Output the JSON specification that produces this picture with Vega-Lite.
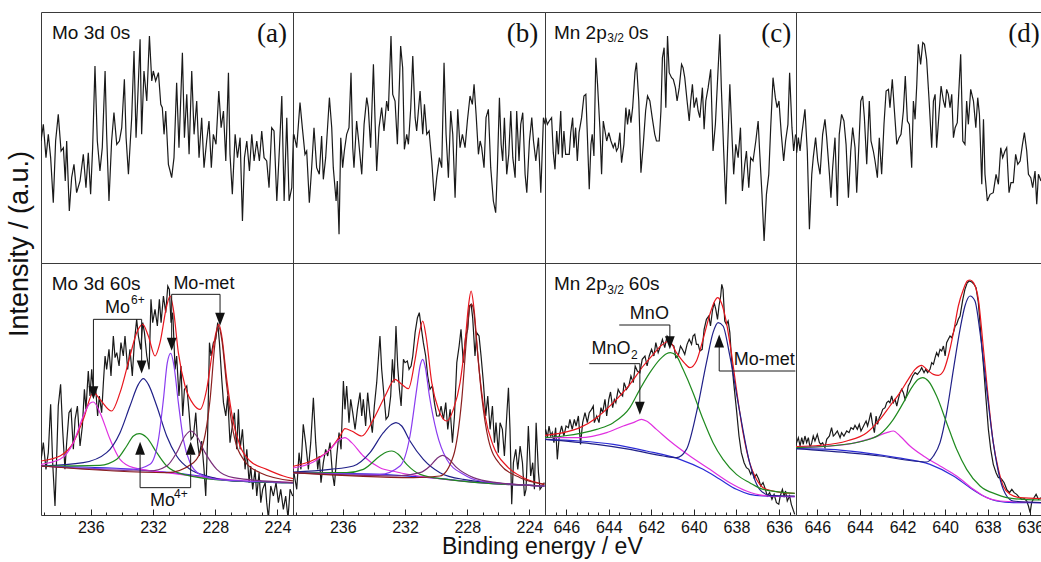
{
"$schema": "https://vega.github.io/schema/vega-lite/v6.json",
"padding": {"left": 5, "top": 11, "right": 0, "bottom": 0},
"background": "white",
"config": {
 "view": {"stroke": "#3a3a3a", "strokeWidth": 1},
 "font": "Liberation Sans",
 "concat": {"spacing": 0},
 "axis": {"grid": false, "domain": false, "labelFont": "Liberation Sans", "labelFontSize": 16, "labelColor": "#111", "tickColor": "#222", "labelFlush": false, "labelOverlap": false},
 "title": {"font": "Liberation Sans", "fontWeight": "normal", "color": "#111"}
},
"title": {"text": "Intensity / (a.u.)", "orient": "left", "anchor": "middle", "fontSize": 27, "offset": 7, "dx": 41},
"datasets": {
 "a0": [{"x":239.2,"y":366},{"x":239.05,"y":416},{"x":238.88,"y":316},{"x":238.73,"y":386},{"x":238.58,"y":316},{"x":238.41,"y":181},{"x":238.26,"y":366},{"x":238.09,"y":446},{"x":237.91,"y":336},{"x":237.76,"y":346},{"x":237.64,"y":246},{"x":237.55,"y":366},{"x":237.38,"y":156},{"x":237.23,"y":256},{"x":237.08,"y":296},{"x":236.91,"y":211},{"x":236.69,"y":246},{"x":236.48,"y":326},{"x":236.31,"y":226},{"x":236.16,"y":331},{"x":236.01,"y":206},{"x":235.88,"y":346},{"x":235.73,"y":591},{"x":235.58,"y":366},{"x":235.41,"y":276},{"x":235.26,"y":346},{"x":235.08,"y":576},{"x":234.98,"y":386},{"x":234.83,"y":186},{"x":234.66,"y":366},{"x":234.51,"y":451},{"x":234.33,"y":356},{"x":234.16,"y":366},{"x":234.01,"y":406},{"x":233.84,"y":551},{"x":233.73,"y":376},{"x":233.58,"y":266},{"x":233.37,"y":436},{"x":233.22,"y":636},{"x":233.09,"y":376},{"x":232.98,"y":496},{"x":232.83,"y":671},{"x":232.73,"y":386},{"x":232.58,"y":576},{"x":232.40,"y":486},{"x":232.23,"y":681},{"x":232.08,"y":546},{"x":231.98,"y":576},{"x":231.83,"y":546},{"x":231.65,"y":571},{"x":231.50,"y":476},{"x":231.40,"y":466},{"x":231.29,"y":386},{"x":231.18,"y":456},{"x":231.01,"y":296},{"x":230.90,"y":276},{"x":230.80,"y":256},{"x":230.65,"y":316},{"x":230.48,"y":541},{"x":230.33,"y":346},{"x":230.11,"y":631},{"x":229.98,"y":376},{"x":229.83,"y":506},{"x":229.68,"y":326},{"x":229.51,"y":576},{"x":229.36,"y":386},{"x":229.19,"y":486},{"x":229.04,"y":316},{"x":228.87,"y":436},{"x":228.72,"y":286},{"x":228.55,"y":366},{"x":228.40,"y":426},{"x":228.25,"y":286},{"x":228.12,"y":386},{"x":227.95,"y":356},{"x":227.77,"y":516},{"x":227.62,"y":406},{"x":227.47,"y":456},{"x":227.32,"y":306},{"x":227.15,"y":571},{"x":227.05,"y":326},{"x":226.90,"y":206},{"x":226.72,"y":386},{"x":226.57,"y":316},{"x":226.40,"y":376},{"x":226.25,"y":126},{"x":226.12,"y":316},{"x":225.97,"y":366},{"x":225.80,"y":276},{"x":225.65,"y":386},{"x":225.50,"y":306},{"x":225.33,"y":366},{"x":225.16,"y":306},{"x":225.01,"y":396},{"x":224.86,"y":316},{"x":224.69,"y":306},{"x":224.54,"y":226},{"x":224.37,"y":406},{"x":224.22,"y":396},{"x":224.04,"y":186},{"x":223.87,"y":346},{"x":223.72,"y":501},{"x":223.57,"y":186},{"x":223.40,"y":436},{"x":223.25,"y":186},{"x":223.08,"y":226},{"x":222.97,"y":386}],
 "b0": [{"x":239.2,"y":360},{"x":239.14,"y":386},{"x":238.96,"y":346},{"x":238.75,"y":481},{"x":238.60,"y":406},{"x":238.43,"y":326},{"x":238.32,"y":336},{"x":238.15,"y":181},{"x":238.00,"y":286},{"x":237.85,"y":406},{"x":237.68,"y":286},{"x":237.51,"y":266},{"x":237.36,"y":381},{"x":237.25,"y":251},{"x":237.10,"y":316},{"x":236.86,"y":496},{"x":236.71,"y":406},{"x":236.61,"y":286},{"x":236.43,"y":186},{"x":236.35,"y":246},{"x":236.24,"y":86},{"x":236.13,"y":376},{"x":236.01,"y":286},{"x":235.90,"y":336},{"x":235.75,"y":386},{"x":235.60,"y":406},{"x":235.47,"y":571},{"x":235.36,"y":346},{"x":235.28,"y":286},{"x":235.11,"y":426},{"x":234.98,"y":366},{"x":234.78,"y":266},{"x":234.63,"y":416},{"x":234.46,"y":496},{"x":234.36,"y":466},{"x":234.21,"y":346},{"x":234.03,"y":596},{"x":233.93,"y":436},{"x":233.82,"y":276},{"x":233.67,"y":406},{"x":233.50,"y":466},{"x":233.35,"y":396},{"x":233.18,"y":486},{"x":233.07,"y":456},{"x":232.90,"y":681},{"x":232.79,"y":506},{"x":232.64,"y":486},{"x":232.49,"y":356},{"x":232.28,"y":651},{"x":232.15,"y":586},{"x":232.04,"y":341},{"x":231.89,"y":386},{"x":231.78,"y":356},{"x":231.63,"y":466},{"x":231.50,"y":621},{"x":231.35,"y":436},{"x":231.25,"y":396},{"x":231.14,"y":456},{"x":231.03,"y":516},{"x":230.86,"y":386},{"x":230.75,"y":476},{"x":230.60,"y":386},{"x":230.45,"y":396},{"x":230.28,"y":306},{"x":230.11,"y":186},{"x":229.96,"y":256},{"x":229.79,"y":316},{"x":229.64,"y":286},{"x":229.49,"y":601},{"x":229.36,"y":386},{"x":229.21,"y":256},{"x":229.06,"y":456},{"x":228.93,"y":386},{"x":228.78,"y":196},{"x":228.61,"y":461},{"x":228.46,"y":346},{"x":228.31,"y":386},{"x":228.14,"y":346},{"x":227.99,"y":426},{"x":227.82,"y":501},{"x":227.67,"y":476},{"x":227.56,"y":536},{"x":227.43,"y":446},{"x":227.28,"y":326},{"x":227.17,"y":366},{"x":227.07,"y":346},{"x":226.92,"y":286},{"x":226.79,"y":436},{"x":226.64,"y":461},{"x":226.49,"y":286},{"x":226.32,"y":186},{"x":226.17,"y":151},{"x":226.06,"y":286},{"x":225.93,"y":496},{"x":225.82,"y":356},{"x":225.72,"y":306},{"x":225.61,"y":436},{"x":225.46,"y":266},{"x":225.33,"y":326},{"x":225.20,"y":456},{"x":225.07,"y":316},{"x":224.92,"y":256},{"x":224.82,"y":456},{"x":224.67,"y":306},{"x":224.56,"y":416},{"x":224.43,"y":451},{"x":224.28,"y":266},{"x":224.17,"y":211},{"x":224.00,"y":366},{"x":223.85,"y":436},{"x":223.74,"y":366},{"x":223.59,"y":306},{"x":223.42,"y":376},{"x":223.27,"y":211},{"x":223.10,"y":436},{"x":222.99,"y":416}],
 "c0": [{"x":646.97,"y":436},{"x":646.89,"y":416},{"x":646.80,"y":426},{"x":646.69,"y":436},{"x":646.61,"y":331},{"x":646.53,"y":281},{"x":646.45,"y":396},{"x":646.37,"y":326},{"x":646.26,"y":456},{"x":646.19,"y":316},{"x":646.11,"y":396},{"x":646.03,"y":326},{"x":645.95,"y":326},{"x":645.86,"y":326},{"x":645.79,"y":391},{"x":645.70,"y":436},{"x":645.64,"y":346},{"x":645.56,"y":406},{"x":645.48,"y":306},{"x":645.40,"y":391},{"x":645.28,"y":436},{"x":645.17,"y":501},{"x":645.08,"y":506},{"x":645.01,"y":386},{"x":644.92,"y":221},{"x":644.84,"y":356},{"x":644.78,"y":386},{"x":644.70,"y":321},{"x":644.61,"y":616},{"x":644.53,"y":536},{"x":644.42,"y":406},{"x":644.34,"y":266},{"x":644.26,"y":426},{"x":644.18,"y":396},{"x":644.10,"y":366},{"x":644.00,"y":391},{"x":643.90,"y":366},{"x":643.79,"y":346},{"x":643.71,"y":361},{"x":643.64,"y":336},{"x":643.56,"y":346},{"x":643.48,"y":391},{"x":643.40,"y":301},{"x":643.29,"y":356},{"x":643.20,"y":466},{"x":643.12,"y":416},{"x":643.04,"y":461},{"x":642.96,"y":421},{"x":642.88,"y":466},{"x":642.77,"y":571},{"x":642.70,"y":601},{"x":642.59,"y":486},{"x":642.49,"y":271},{"x":642.38,"y":356},{"x":642.27,"y":456},{"x":642.18,"y":501},{"x":642.07,"y":486},{"x":641.96,"y":436},{"x":641.84,"y":386},{"x":641.76,"y":366},{"x":641.63,"y":366},{"x":641.55,"y":456},{"x":641.48,"y":616},{"x":641.40,"y":646},{"x":641.32,"y":466},{"x":641.24,"y":681},{"x":641.16,"y":571},{"x":641.05,"y":556},{"x":640.97,"y":551},{"x":640.87,"y":526},{"x":640.79,"y":486},{"x":640.69,"y":526},{"x":640.58,"y":596},{"x":640.51,"y":586},{"x":640.43,"y":556},{"x":640.32,"y":486},{"x":640.22,"y":426},{"x":640.15,"y":486},{"x":640.07,"y":536},{"x":639.99,"y":466},{"x":639.88,"y":496},{"x":639.80,"y":456},{"x":639.72,"y":436},{"x":639.60,"y":526},{"x":639.52,"y":401},{"x":639.44,"y":486},{"x":639.33,"y":526},{"x":639.21,"y":581},{"x":639.10,"y":336},{"x":638.99,"y":416},{"x":638.89,"y":546},{"x":638.78,"y":686},{"x":638.71,"y":526},{"x":638.60,"y":336},{"x":638.50,"y":176},{"x":638.42,"y":336},{"x":638.31,"y":536},{"x":638.20,"y":366},{"x":638.13,"y":266},{"x":638.03,"y":356},{"x":637.92,"y":316},{"x":637.81,"y":406},{"x":637.72,"y":216},{"x":637.61,"y":296},{"x":637.53,"y":336},{"x":637.42,"y":226},{"x":637.33,"y":316},{"x":637.22,"y":306},{"x":637.09,"y":366},{"x":636.98,"y":426},{"x":636.91,"y":336},{"x":636.80,"y":206},{"x":636.70,"y":66},{"x":636.59,"y":206},{"x":636.48,"y":266},{"x":636.39,"y":406},{"x":636.28,"y":556},{"x":636.17,"y":496},{"x":636.09,"y":466},{"x":636.00,"y":486},{"x":635.89,"y":386},{"x":635.78,"y":306},{"x":635.69,"y":366},{"x":635.58,"y":416},{"x":635.50,"y":571},{"x":635.39,"y":406},{"x":635.31,"y":336},{"x":635.22,"y":386}],
 "d0": [{"x":647.0,"y":380},{"x":646.97,"y":331},{"x":646.89,"y":376},{"x":646.81,"y":336},{"x":646.73,"y":386},{"x":646.58,"y":461},{"x":646.47,"y":336},{"x":646.37,"y":101},{"x":646.26,"y":266},{"x":646.19,"y":316},{"x":646.08,"y":376},{"x":645.98,"y":306},{"x":645.87,"y":266},{"x":645.75,"y":386},{"x":645.64,"y":431},{"x":645.56,"y":376},{"x":645.43,"y":266},{"x":645.36,"y":196},{"x":645.28,"y":286},{"x":645.17,"y":376},{"x":645.06,"y":171},{"x":644.97,"y":386},{"x":644.86,"y":446},{"x":644.75,"y":426},{"x":644.65,"y":356},{"x":644.54,"y":196},{"x":644.43,"y":336},{"x":644.34,"y":406},{"x":644.23,"y":346},{"x":644.15,"y":211},{"x":644.04,"y":366},{"x":643.96,"y":486},{"x":643.87,"y":501},{"x":643.79,"y":436},{"x":643.68,"y":296},{"x":643.56,"y":486},{"x":643.48,"y":366},{"x":643.37,"y":336},{"x":643.29,"y":306},{"x":643.18,"y":256},{"x":643.09,"y":376},{"x":642.98,"y":266},{"x":642.87,"y":416},{"x":642.77,"y":516},{"x":642.66,"y":521},{"x":642.59,"y":466},{"x":642.48,"y":551},{"x":642.38,"y":456},{"x":642.27,"y":356},{"x":642.16,"y":376},{"x":642.07,"y":386},{"x":641.96,"y":456},{"x":641.87,"y":561},{"x":641.77,"y":426},{"x":641.68,"y":416},{"x":641.57,"y":286},{"x":641.49,"y":486},{"x":641.41,"y":431},{"x":641.33,"y":536},{"x":641.26,"y":656},{"x":641.15,"y":596},{"x":641.05,"y":661},{"x":640.97,"y":656},{"x":640.87,"y":611},{"x":640.76,"y":496},{"x":640.63,"y":346},{"x":640.55,"y":486},{"x":640.47,"y":506},{"x":640.40,"y":346},{"x":640.29,"y":446},{"x":640.19,"y":531},{"x":640.08,"y":486},{"x":640.00,"y":466},{"x":639.93,"y":521},{"x":639.85,"y":506},{"x":639.77,"y":466},{"x":639.69,"y":506},{"x":639.61,"y":376},{"x":639.53,"y":406},{"x":639.43,"y":421},{"x":639.27,"y":626},{"x":639.17,"y":366},{"x":639.07,"y":356},{"x":638.99,"y":486},{"x":638.91,"y":416},{"x":638.80,"y":521},{"x":638.67,"y":486},{"x":638.56,"y":406},{"x":638.47,"y":496},{"x":638.39,"y":446},{"x":638.28,"y":236},{"x":638.20,"y":431},{"x":638.13,"y":266},{"x":638.02,"y":186},{"x":637.89,"y":206},{"x":637.74,"y":211},{"x":637.61,"y":266},{"x":637.50,"y":236},{"x":637.39,"y":346},{"x":637.30,"y":316},{"x":637.19,"y":336},{"x":637.11,"y":346},{"x":637.00,"y":211},{"x":636.91,"y":241},{"x":636.80,"y":241},{"x":636.69,"y":326},{"x":636.59,"y":296},{"x":636.48,"y":306},{"x":636.37,"y":356},{"x":636.28,"y":391},{"x":636.17,"y":336},{"x":636.09,"y":266},{"x":635.98,"y":256},{"x":635.89,"y":226},{"x":635.78,"y":276},{"x":635.70,"y":176},{"x":635.62,"y":266},{"x":635.50,"y":246}],
 "a1": [{"x":239.2,"y":170},{"x":239.16,"y":177},{"x":239.05,"y":217},{"x":238.88,"y":137},{"x":238.73,"y":187},{"x":238.58,"y":332},{"x":238.45,"y":157},{"x":238.30,"y":27},{"x":238.19,"y":177},{"x":238.09,"y":327},{"x":237.94,"y":392},{"x":237.81,"y":257},{"x":237.66,"y":137},{"x":237.55,"y":217},{"x":237.40,"y":307},{"x":237.27,"y":317},{"x":237.12,"y":197},{"x":237.01,"y":287},{"x":236.86,"y":327},{"x":236.69,"y":207},{"x":236.54,"y":267},{"x":236.41,"y":377},{"x":236.31,"y":317},{"x":236.16,"y":432},{"x":236.05,"y":357},{"x":235.94,"y":437},{"x":235.83,"y":367},{"x":235.68,"y":377},{"x":235.56,"y":297},{"x":235.45,"y":357},{"x":235.30,"y":307},{"x":235.19,"y":397},{"x":235.08,"y":477},{"x":234.98,"y":437},{"x":234.83,"y":497},{"x":234.70,"y":417},{"x":234.55,"y":537},{"x":234.44,"y":472},{"x":234.33,"y":487},{"x":234.18,"y":447},{"x":234.06,"y":517},{"x":233.91,"y":477},{"x":233.80,"y":537},{"x":233.63,"y":437},{"x":233.48,"y":497},{"x":233.33,"y":417},{"x":233.20,"y":517},{"x":233.05,"y":587},{"x":232.94,"y":537},{"x":232.79,"y":497},{"x":232.66,"y":577},{"x":232.55,"y":547},{"x":232.40,"y":477},{"x":232.25,"y":437},{"x":232.13,"y":647},{"x":232.02,"y":577},{"x":231.87,"y":617},{"x":231.72,"y":567},{"x":231.59,"y":647},{"x":231.48,"y":577},{"x":231.33,"y":657},{"x":231.18,"y":607},{"x":231.05,"y":687},{"x":230.95,"y":677},{"x":230.84,"y":577},{"x":230.73,"y":607},{"x":230.58,"y":437},{"x":230.48,"y":477},{"x":230.33,"y":357},{"x":230.20,"y":447},{"x":230.09,"y":297},{"x":229.98,"y":377},{"x":229.83,"y":387},{"x":229.68,"y":307},{"x":229.55,"y":227},{"x":229.40,"y":237},{"x":229.25,"y":307},{"x":229.13,"y":217},{"x":229.02,"y":177},{"x":228.87,"y":222},{"x":228.72,"y":137},{"x":228.61,"y":57},{"x":228.50,"y":217},{"x":228.37,"y":517},{"x":228.27,"y":477},{"x":228.12,"y":517},{"x":227.97,"y":527},{"x":227.84,"y":577},{"x":227.73,"y":517},{"x":227.58,"y":407},{"x":227.47,"y":337},{"x":227.32,"y":297},{"x":227.20,"y":357},{"x":227.05,"y":217},{"x":226.90,"y":267},{"x":226.77,"y":307},{"x":226.62,"y":197},{"x":226.51,"y":317},{"x":226.40,"y":197},{"x":226.25,"y":257},{"x":226.08,"y":137},{"x":225.97,"y":197},{"x":225.82,"y":97},{"x":225.72,"y":147},{"x":225.59,"y":77},{"x":225.44,"y":137},{"x":225.33,"y":57},{"x":225.18,"y":127},{"x":225.07,"y":37},{"x":224.95,"y":77},{"x":224.79,"y":97},{"x":224.69,"y":37},{"x":224.58,"y":-10},{"x":224.43,"y":87},{"x":224.26,"y":57},{"x":224.09,"y":97},{"x":223.94,"y":37},{"x":223.79,"y":77},{"x":223.62,"y":17},{"x":223.47,"y":57},{"x":223.32,"y":-10},{"x":223.19,"y":77},{"x":223.02,"y":57}],
 "b1": [{"x":239.2,"y":130},{"x":239.14,"y":127},{"x":238.96,"y":77},{"x":238.81,"y":187},{"x":238.69,"y":137},{"x":238.54,"y":272},{"x":238.39,"y":217},{"x":238.21,"y":137},{"x":238.06,"y":217},{"x":237.89,"y":352},{"x":237.74,"y":217},{"x":237.61,"y":137},{"x":237.51,"y":177},{"x":237.40,"y":97},{"x":237.25,"y":157},{"x":237.10,"y":197},{"x":236.97,"y":177},{"x":236.82,"y":217},{"x":236.67,"y":127},{"x":236.54,"y":87},{"x":236.39,"y":177},{"x":236.24,"y":247},{"x":236.11,"y":197},{"x":235.96,"y":402},{"x":235.86,"y":317},{"x":235.75,"y":387},{"x":235.60,"y":277},{"x":235.49,"y":347},{"x":235.36,"y":307},{"x":235.21,"y":257},{"x":235.06,"y":317},{"x":234.89,"y":367},{"x":234.78,"y":297},{"x":234.68,"y":347},{"x":234.53,"y":267},{"x":234.40,"y":367},{"x":234.25,"y":297},{"x":234.10,"y":247},{"x":233.97,"y":327},{"x":233.82,"y":397},{"x":233.61,"y":537},{"x":233.50,"y":437},{"x":233.35,"y":357},{"x":233.22,"y":287},{"x":233.07,"y":297},{"x":232.92,"y":357},{"x":232.81,"y":467},{"x":232.70,"y":397},{"x":232.58,"y":567},{"x":232.47,"y":447},{"x":232.36,"y":377},{"x":232.25,"y":327},{"x":232.10,"y":467},{"x":232.00,"y":457},{"x":231.85,"y":462},{"x":231.74,"y":437},{"x":231.61,"y":447},{"x":231.50,"y":477},{"x":231.35,"y":547},{"x":231.20,"y":592},{"x":231.08,"y":607},{"x":230.97,"y":567},{"x":230.82,"y":517},{"x":230.67,"y":477},{"x":230.54,"y":417},{"x":230.39,"y":377},{"x":230.24,"y":387},{"x":230.11,"y":337},{"x":229.96,"y":297},{"x":229.81,"y":297},{"x":229.68,"y":327},{"x":229.53,"y":287},{"x":229.38,"y":337},{"x":229.25,"y":257},{"x":229.10,"y":317},{"x":228.95,"y":217},{"x":228.82,"y":297},{"x":228.67,"y":457},{"x":228.52,"y":507},{"x":228.40,"y":557},{"x":228.25,"y":457},{"x":228.10,"y":537},{"x":227.97,"y":557},{"x":227.86,"y":627},{"x":227.75,"y":632},{"x":227.65,"y":592},{"x":227.50,"y":477},{"x":227.39,"y":547},{"x":227.24,"y":537},{"x":227.11,"y":477},{"x":226.96,"y":397},{"x":226.81,"y":297},{"x":226.68,"y":357},{"x":226.53,"y":257},{"x":226.38,"y":327},{"x":226.25,"y":217},{"x":226.15,"y":277},{"x":226.00,"y":187},{"x":225.89,"y":277},{"x":225.74,"y":257},{"x":225.61,"y":177},{"x":225.46,"y":297},{"x":225.35,"y":382},{"x":225.25,"y":257},{"x":225.14,"y":32},{"x":225.03,"y":157},{"x":224.88,"y":197},{"x":224.75,"y":137},{"x":224.60,"y":207},{"x":224.45,"y":157},{"x":224.32,"y":57},{"x":224.22,"y":77},{"x":224.07,"y":267},{"x":223.92,"y":117},{"x":223.79,"y":157},{"x":223.68,"y":77},{"x":223.57,"y":277},{"x":223.42,"y":127},{"x":223.32,"y":77},{"x":223.17,"y":87},{"x":223.04,"y":97}],
 "c1": [{"x":647.0,"y":250},{"x":646.97,"y":257},{"x":646.89,"y":232},{"x":646.81,"y":267},{"x":646.73,"y":237},{"x":646.66,"y":247},{"x":646.58,"y":217},{"x":646.50,"y":262},{"x":646.42,"y":167},{"x":646.33,"y":237},{"x":646.22,"y":267},{"x":646.11,"y":237},{"x":646.01,"y":267},{"x":645.90,"y":262},{"x":645.83,"y":287},{"x":645.72,"y":257},{"x":645.62,"y":287},{"x":645.54,"y":267},{"x":645.43,"y":297},{"x":645.33,"y":212},{"x":645.23,"y":277},{"x":645.12,"y":307},{"x":645.01,"y":277},{"x":644.92,"y":307},{"x":644.81,"y":317},{"x":644.73,"y":327},{"x":644.68,"y":277},{"x":644.57,"y":297},{"x":644.46,"y":277},{"x":644.37,"y":322},{"x":644.29,"y":307},{"x":644.18,"y":347},{"x":644.10,"y":297},{"x":644.00,"y":347},{"x":643.92,"y":369},{"x":643.82,"y":322},{"x":643.74,"y":347},{"x":643.67,"y":337},{"x":643.56,"y":377},{"x":643.48,"y":367},{"x":643.35,"y":357},{"x":643.28,"y":397},{"x":643.17,"y":377},{"x":643.06,"y":387},{"x":642.96,"y":417},{"x":642.85,"y":397},{"x":642.76,"y":447},{"x":642.66,"y":432},{"x":642.54,"y":427},{"x":642.43,"y":467},{"x":642.30,"y":477},{"x":642.20,"y":447},{"x":642.10,"y":477},{"x":641.99,"y":497},{"x":641.88,"y":477},{"x":641.79,"y":517},{"x":641.68,"y":487},{"x":641.57,"y":507},{"x":641.48,"y":527},{"x":641.37,"y":502},{"x":641.26,"y":537},{"x":641.16,"y":527},{"x":641.05,"y":512},{"x":640.94,"y":507},{"x":640.85,"y":472},{"x":640.74,"y":477},{"x":640.63,"y":507},{"x":640.54,"y":497},{"x":640.43,"y":482},{"x":640.32,"y":512},{"x":640.22,"y":527},{"x":640.11,"y":512},{"x":640.04,"y":537},{"x":639.96,"y":542},{"x":639.88,"y":512},{"x":639.80,"y":512},{"x":639.72,"y":492},{"x":639.61,"y":497},{"x":639.52,"y":557},{"x":639.41,"y":587},{"x":639.30,"y":597},{"x":639.22,"y":567},{"x":639.13,"y":612},{"x":639.05,"y":637},{"x":638.97,"y":617},{"x":638.89,"y":587},{"x":638.82,"y":627},{"x":638.74,"y":657},{"x":638.69,"y":692},{"x":638.63,"y":677},{"x":638.55,"y":582},{"x":638.47,"y":572},{"x":638.39,"y":582},{"x":638.31,"y":547},{"x":638.24,"y":477},{"x":638.13,"y":397},{"x":638.00,"y":317},{"x":637.88,"y":237},{"x":637.77,"y":187},{"x":637.64,"y":157},{"x":637.53,"y":142},{"x":637.42,"y":137},{"x":637.33,"y":122},{"x":637.25,"y":132},{"x":637.17,"y":112},{"x":637.06,"y":122},{"x":636.95,"y":107},{"x":636.86,"y":87},{"x":636.75,"y":97},{"x":636.64,"y":77},{"x":636.55,"y":57},{"x":636.44,"y":67},{"x":636.33,"y":47},{"x":636.23,"y":62},{"x":636.12,"y":37},{"x":636.01,"y":32},{"x":635.94,"y":57},{"x":635.84,"y":77},{"x":635.76,"y":57},{"x":635.69,"y":72},{"x":635.61,"y":42},{"x":635.50,"y":57},{"x":635.42,"y":32},{"x":635.34,"y":17},{"x":635.26,"y":2}],
 "d1": [{"x":647.0,"y":210},{"x":646.97,"y":217},{"x":646.89,"y":232},{"x":646.81,"y":207},{"x":646.73,"y":232},{"x":646.66,"y":212},{"x":646.58,"y":237},{"x":646.50,"y":217},{"x":646.42,"y":232},{"x":646.34,"y":202},{"x":646.26,"y":217},{"x":646.19,"y":237},{"x":646.11,"y":222},{"x":646.00,"y":242},{"x":645.90,"y":217},{"x":645.83,"y":212},{"x":645.75,"y":217},{"x":645.64,"y":202},{"x":645.56,"y":227},{"x":645.43,"y":237},{"x":645.33,"y":262},{"x":645.25,"y":237},{"x":645.17,"y":242},{"x":645.06,"y":252},{"x":644.93,"y":232},{"x":644.86,"y":247},{"x":644.75,"y":237},{"x":644.62,"y":252},{"x":644.51,"y":247},{"x":644.42,"y":262},{"x":644.31,"y":257},{"x":644.23,"y":269},{"x":644.12,"y":257},{"x":644.03,"y":272},{"x":643.95,"y":252},{"x":643.87,"y":262},{"x":643.79,"y":272},{"x":643.71,"y":282},{"x":643.64,"y":267},{"x":643.56,"y":287},{"x":643.49,"y":307},{"x":643.42,"y":277},{"x":643.32,"y":247},{"x":643.24,"y":297},{"x":643.17,"y":272},{"x":643.09,"y":292},{"x":643.01,"y":302},{"x":642.93,"y":317},{"x":642.82,"y":322},{"x":642.74,"y":337},{"x":642.66,"y":342},{"x":642.59,"y":337},{"x":642.51,"y":357},{"x":642.43,"y":337},{"x":642.35,"y":347},{"x":642.27,"y":327},{"x":642.20,"y":347},{"x":642.12,"y":367},{"x":642.04,"y":377},{"x":641.96,"y":367},{"x":641.88,"y":347},{"x":641.80,"y":362},{"x":641.73,"y":387},{"x":641.65,"y":397},{"x":641.52,"y":417},{"x":641.41,"y":427},{"x":641.30,"y":422},{"x":641.18,"y":432},{"x":641.10,"y":442},{"x":640.99,"y":427},{"x":640.91,"y":437},{"x":640.82,"y":427},{"x":640.71,"y":437},{"x":640.63,"y":457},{"x":640.55,"y":452},{"x":640.47,"y":472},{"x":640.40,"y":487},{"x":640.32,"y":477},{"x":640.24,"y":497},{"x":640.16,"y":492},{"x":640.08,"y":507},{"x":640.00,"y":477},{"x":639.93,"y":517},{"x":639.85,"y":527},{"x":639.77,"y":537},{"x":639.69,"y":532},{"x":639.61,"y":547},{"x":639.53,"y":567},{"x":639.46,"y":572},{"x":639.38,"y":587},{"x":639.30,"y":597},{"x":639.17,"y":647},{"x":639.07,"y":677},{"x":638.96,"y":697},{"x":638.86,"y":702},{"x":638.75,"y":699},{"x":638.64,"y":692},{"x":638.55,"y":682},{"x":638.44,"y":637},{"x":638.33,"y":547},{"x":638.20,"y":447},{"x":638.08,"y":347},{"x":637.97,"y":257},{"x":637.86,"y":197},{"x":637.74,"y":152},{"x":637.61,"y":127},{"x":637.50,"y":112},{"x":637.42,"y":112},{"x":637.34,"y":107},{"x":637.23,"y":97},{"x":637.11,"y":77},{"x":636.98,"y":67},{"x":636.87,"y":77},{"x":636.76,"y":67},{"x":636.64,"y":62},{"x":636.51,"y":52},{"x":636.40,"y":47},{"x":636.28,"y":49},{"x":636.17,"y":42},{"x":636.09,"y":27},{"x":636.01,"y":7},{"x":635.94,"y":37},{"x":635.83,"y":52},{"x":635.73,"y":62},{"x":635.62,"y":47},{"x":635.50,"y":52}],
 "a1c": [
  {"s":"bg","x":239.2,"y":147},{"s":"bg","x":233.26,"y":137},{"s":"bg","x":228.98,"y":117},{"s":"bg","x":226.83,"y":102},{"s":"bg","x":222.97,"y":97},
  {"s":"red","x":239.2,"y":162},{"s":"red","x":237.98,"y":177},{"s":"red","x":237.12,"y":217},{"s":"red","x":236.48,"y":287},{"s":"red","x":235.83,"y":367},{"s":"red","x":235.41,"y":347},{"s":"red","x":234.66,"y":312},{"s":"red","x":234.12,"y":367},{"s":"red","x":233.48,"y":477},{"s":"red","x":233.05,"y":547},{"s":"red","x":232.66,"y":572},{"s":"red","x":232.30,"y":537},{"s":"red","x":231.87,"y":477},{"s":"red","x":231.55,"y":517},{"s":"red","x":231.12,"y":627},{"s":"red","x":230.90,"y":657},{"s":"red","x":230.69,"y":617},{"s":"red","x":230.37,"y":487},{"s":"red","x":229.94,"y":387},{"s":"red","x":229.40,"y":332},{"s":"red","x":228.98,"y":317},{"s":"red","x":228.55,"y":377},{"s":"red","x":228.22,"y":477},{"s":"red","x":227.95,"y":547},{"s":"red","x":227.77,"y":572},{"s":"red","x":227.58,"y":537},{"s":"red","x":227.26,"y":407},{"s":"red","x":226.83,"y":277},{"s":"red","x":226.40,"y":207},{"s":"red","x":225.76,"y":162},{"s":"red","x":224.69,"y":137},{"s":"red","x":223.62,"y":117},{"s":"red","x":222.97,"y":109},
  {"s":"m1","x":239.2,"y":152},{"s":"m1","x":237.98,"y":167},{"s":"m1","x":237.12,"y":217},{"s":"m1","x":236.48,"y":297},{"s":"m1","x":236.05,"y":335},{"s":"m1","x":235.83,"y":339},{"s":"m1","x":235.41,"y":307},{"s":"m1","x":234.76,"y":227},{"s":"m1","x":234.12,"y":167},{"s":"m1","x":233.26,"y":142},{"s":"m1","x":231.12,"y":127},{"s":"m1","x":226.83,"y":105},{"s":"m1","x":222.97,"y":97},
  {"s":"m2","x":239.2,"y":147},{"s":"m2","x":236.48,"y":157},{"s":"m2","x":234.98,"y":187},{"s":"m2","x":234.12,"y":247},{"s":"m2","x":233.48,"y":327},{"s":"m2","x":232.94,"y":392},{"s":"m2","x":232.62,"y":409},{"s":"m2","x":232.30,"y":392},{"s":"m2","x":231.76,"y":327},{"s":"m2","x":231.12,"y":237},{"s":"m2","x":230.48,"y":177},{"s":"m2","x":229.62,"y":137},{"s":"m2","x":228.55,"y":117},{"s":"m2","x":226.83,"y":102},{"s":"m2","x":222.97,"y":97},
  {"s":"m3","x":239.2,"y":147},{"s":"m3","x":235.41,"y":149},{"s":"m3","x":234.33,"y":167},{"s":"m3","x":233.69,"y":207},{"s":"m3","x":233.26,"y":237},{"s":"m3","x":232.88,"y":244},{"s":"m3","x":232.40,"y":232},{"s":"m3","x":231.76,"y":187},{"s":"m3","x":231.12,"y":147},{"s":"m3","x":230.05,"y":122},{"s":"m3","x":226.83,"y":102},{"s":"m3","x":222.97,"y":97},
  {"s":"m4","x":239.2,"y":147},{"s":"m4","x":233.26,"y":137},{"s":"m4","x":232.19,"y":152},{"s":"m4","x":231.65,"y":227},{"s":"m4","x":231.33,"y":347},{"s":"m4","x":231.08,"y":457},{"s":"m4","x":230.86,"y":485},{"s":"m4","x":230.65,"y":447},{"s":"m4","x":230.37,"y":337},{"s":"m4","x":230.05,"y":227},{"s":"m4","x":229.62,"y":157},{"s":"m4","x":228.98,"y":122},{"s":"m4","x":227.90,"y":107},{"s":"m4","x":222.97,"y":97},
  {"s":"m5","x":239.2,"y":147},{"s":"m5","x":232.19,"y":132},{"s":"m5","x":231.12,"y":147},{"s":"m5","x":230.48,"y":187},{"s":"m5","x":229.94,"y":237},{"s":"m5","x":229.58,"y":252},{"s":"m5","x":229.19,"y":237},{"s":"m5","x":228.65,"y":187},{"s":"m5","x":227.90,"y":137},{"s":"m5","x":226.83,"y":112},{"s":"m5","x":222.97,"y":97},
  {"s":"m6","x":239.2,"y":147},{"s":"m6","x":231.12,"y":127},{"s":"m6","x":229.40,"y":157},{"s":"m6","x":228.76,"y":217},{"s":"m6","x":228.33,"y":347},{"s":"m6","x":228.01,"y":517},{"s":"m6","x":227.80,"y":567},{"s":"m6","x":227.58,"y":527},{"s":"m6","x":227.26,"y":387},{"s":"m6","x":226.83,"y":247},{"s":"m6","x":226.19,"y":167},{"s":"m6","x":225.12,"y":127},{"s":"m6","x":222.97,"y":102}],
 "b1c": [
  {"s":"bg","x":239.2,"y":127},{"s":"bg","x":233.61,"y":122},{"s":"bg","x":230.39,"y":112},{"s":"bg","x":227.17,"y":97},{"s":"bg","x":223.04,"y":87},
  {"s":"red","x":239.2,"y":146},{"s":"red","x":237.89,"y":165},{"s":"red","x":236.82,"y":197},{"s":"red","x":236.18,"y":237},{"s":"red","x":235.86,"y":259},{"s":"red","x":235.43,"y":252},{"s":"red","x":234.78,"y":237},{"s":"red","x":234.03,"y":287},{"s":"red","x":233.28,"y":357},{"s":"red","x":232.64,"y":407},{"s":"red","x":232.21,"y":392},{"s":"red","x":231.78,"y":379},{"s":"red","x":231.35,"y":467},{"s":"red","x":231.03,"y":557},{"s":"red","x":230.86,"y":582},{"s":"red","x":230.65,"y":537},{"s":"red","x":230.28,"y":397},{"s":"red","x":229.85,"y":317},{"s":"red","x":229.32,"y":282},{"s":"red","x":228.89,"y":317},{"s":"red","x":228.46,"y":397},{"s":"red","x":228.14,"y":517},{"s":"red","x":227.92,"y":627},{"s":"red","x":227.75,"y":672},{"s":"red","x":227.56,"y":617},{"s":"red","x":227.28,"y":457},{"s":"red","x":226.85,"y":297},{"s":"red","x":226.32,"y":207},{"s":"red","x":225.46,"y":147},{"s":"red","x":224.39,"y":112},{"s":"red","x":223.04,"y":92},
  {"s":"m1","x":239.2,"y":141},{"s":"m1","x":237.89,"y":159},{"s":"m1","x":236.82,"y":197},{"s":"m1","x":236.18,"y":227},{"s":"m1","x":235.86,"y":232},{"s":"m1","x":235.43,"y":217},{"s":"m1","x":234.68,"y":177},{"s":"m1","x":233.61,"y":142},{"s":"m1","x":232.53,"y":129},{"s":"m1","x":227.17,"y":97},{"s":"m1","x":223.04,"y":87},
  {"s":"m2","x":239.2,"y":129},{"s":"m2","x":236.82,"y":137},{"s":"m2","x":235.32,"y":147},{"s":"m2","x":234.25,"y":187},{"s":"m2","x":233.39,"y":247},{"s":"m2","x":232.85,"y":272},{"s":"m2","x":232.58,"y":277},{"s":"m2","x":232.21,"y":267},{"s":"m2","x":231.68,"y":222},{"s":"m2","x":230.82,"y":167},{"s":"m2","x":229.75,"y":127},{"s":"m2","x":228.25,"y":107},{"s":"m2","x":223.04,"y":87},
  {"s":"m3","x":239.2,"y":127},{"s":"m3","x":235.75,"y":127},{"s":"m3","x":234.68,"y":137},{"s":"m3","x":233.61,"y":177},{"s":"m3","x":233.18,"y":189},{"s":"m3","x":232.85,"y":192},{"s":"m3","x":232.43,"y":182},{"s":"m3","x":231.89,"y":152},{"s":"m3","x":231.03,"y":122},{"s":"m3","x":229.32,"y":107},{"s":"m3","x":223.04,"y":87},
  {"s":"m4","x":239.2,"y":127},{"s":"m4","x":233.61,"y":122},{"s":"m4","x":232.32,"y":147},{"s":"m4","x":231.68,"y":237},{"s":"m4","x":231.25,"y":377},{"s":"m4","x":231.03,"y":447},{"s":"m4","x":230.86,"y":467},{"s":"m4","x":230.71,"y":447},{"s":"m4","x":230.43,"y":357},{"s":"m4","x":229.96,"y":247},{"s":"m4","x":229.32,"y":167},{"s":"m4","x":228.25,"y":122},{"s":"m4","x":227.17,"y":102},{"s":"m4","x":223.04,"y":87},
  {"s":"m5","x":239.2,"y":127},{"s":"m5","x":232.53,"y":117},{"s":"m5","x":231.03,"y":127},{"s":"m5","x":230.39,"y":147},{"s":"m5","x":229.96,"y":169},{"s":"m5","x":229.58,"y":179},{"s":"m5","x":229.21,"y":169},{"s":"m5","x":228.67,"y":142},{"s":"m5","x":227.60,"y":112},{"s":"m5","x":226.10,"y":97},{"s":"m5","x":223.04,"y":87},
  {"s":"m6","x":239.2,"y":127},{"s":"m6","x":231.46,"y":112},{"s":"m6","x":229.75,"y":117},{"s":"m6","x":228.89,"y":177},{"s":"m6","x":228.35,"y":347},{"s":"m6","x":228.03,"y":537},{"s":"m6","x":227.82,"y":627},{"s":"m6","x":227.73,"y":632},{"s":"m6","x":227.60,"y":617},{"s":"m6","x":227.39,"y":517},{"s":"m6","x":227.07,"y":357},{"s":"m6","x":226.64,"y":227},{"s":"m6","x":225.89,"y":152},{"s":"m6","x":224.60,"y":112},{"s":"m6","x":223.04,"y":92}],
 "c1c": [
  {"s":"bg","x":647.0,"y":227},{"s":"bg","x":645.36,"y":222},{"s":"bg","x":643.79,"y":212},{"s":"bg","x":642.23,"y":192},{"s":"bg","x":640.66,"y":167},{"s":"bg","x":639.57,"y":137},{"s":"bg","x":638.78,"y":107},{"s":"bg","x":638.00,"y":77},{"s":"bg","x":637.38,"y":62},{"s":"bg","x":636.75,"y":57},{"s":"bg","x":635.26,"y":55},
  {"s":"red","x":647.0,"y":239},{"s":"red","x":646.14,"y":247},{"s":"red","x":645.36,"y":262},{"s":"red","x":644.57,"y":292},{"s":"red","x":643.79,"y":337},{"s":"red","x":643.01,"y":392},{"s":"red","x":642.38,"y":447},{"s":"red","x":641.91,"y":482},{"s":"red","x":641.52,"y":509},{"s":"red","x":641.16,"y":522},{"s":"red","x":640.82,"y":487},{"s":"red","x":640.43,"y":455},{"s":"red","x":640.19,"y":442},{"s":"red","x":639.88,"y":462},{"s":"red","x":639.57,"y":527},{"s":"red","x":639.25,"y":602},{"s":"red","x":639.02,"y":642},{"s":"red","x":638.89,"y":652},{"s":"red","x":638.71,"y":637},{"s":"red","x":638.47,"y":577},{"s":"red","x":638.24,"y":487},{"s":"red","x":638.00,"y":377},{"s":"red","x":637.69,"y":247},{"s":"red","x":637.38,"y":157},{"s":"red","x":637.06,"y":107},{"s":"red","x":636.75,"y":82},{"s":"red","x":636.28,"y":72},{"s":"red","x":635.81,"y":67},{"s":"red","x":635.26,"y":65},
  {"s":"m1","x":647.0,"y":232},{"s":"m1","x":645.36,"y":232},{"s":"m1","x":644.10,"y":247},{"s":"m1","x":643.32,"y":267},{"s":"m1","x":642.85,"y":277},{"s":"m1","x":642.46,"y":287},{"s":"m1","x":642.23,"y":282},{"s":"m1","x":641.76,"y":257},{"s":"m1","x":641.13,"y":222},{"s":"m1","x":640.19,"y":177},{"s":"m1","x":639.25,"y":137},{"s":"m1","x":638.31,"y":97},{"s":"m1","x":637.53,"y":72},{"s":"m1","x":636.75,"y":59},{"s":"m1","x":635.26,"y":55},
  {"s":"m2","x":647.0,"y":227},{"s":"m2","x":644.57,"y":212},{"s":"m2","x":643.01,"y":197},{"s":"m2","x":641.44,"y":177},{"s":"m2","x":640.82,"y":172},{"s":"m2","x":640.35,"y":197},{"s":"m2","x":639.88,"y":307},{"s":"m2","x":639.41,"y":457},{"s":"m2","x":639.10,"y":547},{"s":"m2","x":638.86,"y":577},{"s":"m2","x":638.63,"y":567},{"s":"m2","x":638.31,"y":477},{"s":"m2","x":637.84,"y":307},{"s":"m2","x":637.38,"y":157},{"s":"m2","x":636.91,"y":77},{"s":"m2","x":636.44,"y":59},{"s":"m2","x":635.26,"y":57},
  {"s":"m3","x":647.0,"y":232},{"s":"m3","x":646.14,"y":237},{"s":"m3","x":644.57,"y":257},{"s":"m3","x":643.79,"y":277},{"s":"m3","x":643.01,"y":322},{"s":"m3","x":642.54,"y":377},{"s":"m3","x":642.07,"y":427},{"s":"m3","x":641.60,"y":467},{"s":"m3","x":641.29,"y":484},{"s":"m3","x":641.10,"y":487},{"s":"m3","x":640.82,"y":477},{"s":"m3","x":640.51,"y":437},{"s":"m3","x":640.04,"y":367},{"s":"m3","x":639.57,"y":287},{"s":"m3","x":639.10,"y":217},{"s":"m3","x":638.63,"y":167},{"s":"m3","x":638.00,"y":122},{"s":"m3","x":637.38,"y":97},{"s":"m3","x":636.75,"y":77},{"s":"m3","x":635.26,"y":65}],
 "d1c": [
  {"s":"bg","x":647.0,"y":199},{"s":"bg","x":645.40,"y":197},{"s":"bg","x":643.84,"y":187},{"s":"bg","x":642.27,"y":172},{"s":"bg","x":640.71,"y":152},{"s":"bg","x":639.61,"y":117},{"s":"bg","x":638.83,"y":82},{"s":"bg","x":638.20,"y":57},{"s":"bg","x":637.58,"y":42},{"s":"bg","x":636.80,"y":37},{"s":"bg","x":635.50,"y":37},
  {"s":"red","x":647.0,"y":205},{"s":"red","x":645.87,"y":209},{"s":"red","x":644.62,"y":222},{"s":"red","x":643.68,"y":247},{"s":"red","x":643.06,"y":287},{"s":"red","x":642.59,"y":327},{"s":"red","x":642.12,"y":367},{"s":"red","x":641.73,"y":407},{"s":"red","x":641.41,"y":437},{"s":"red","x":641.10,"y":449},{"s":"red","x":640.87,"y":437},{"s":"red","x":640.55,"y":422},{"s":"red","x":640.32,"y":419},{"s":"red","x":640.08,"y":432},{"s":"red","x":639.85,"y":477},{"s":"red","x":639.61,"y":547},{"s":"red","x":639.38,"y":627},{"s":"red","x":639.14,"y":677},{"s":"red","x":638.96,"y":702},{"s":"red","x":638.83,"y":705},{"s":"red","x":638.67,"y":697},{"s":"red","x":638.44,"y":647},{"s":"red","x":638.20,"y":497},{"s":"red","x":637.97,"y":347},{"s":"red","x":637.74,"y":217},{"s":"red","x":637.50,"y":137},{"s":"red","x":637.27,"y":87},{"s":"red","x":636.95,"y":62},{"s":"red","x":636.48,"y":52},{"s":"red","x":635.50,"y":49},
  {"s":"m1","x":647.0,"y":202},{"s":"m1","x":644.62,"y":212},{"s":"m1","x":643.37,"y":232},{"s":"m1","x":642.74,"y":247},{"s":"m1","x":642.43,"y":252},{"s":"m1","x":642.12,"y":237},{"s":"m1","x":641.65,"y":207},{"s":"m1","x":641.02,"y":177},{"s":"m1","x":640.24,"y":147},{"s":"m1","x":639.46,"y":117},{"s":"m1","x":638.67,"y":77},{"s":"m1","x":638.05,"y":52},{"s":"m1","x":637.42,"y":42},{"s":"m1","x":635.50,"y":37},
  {"s":"m2","x":647.0,"y":199},{"s":"m2","x":644.62,"y":187},{"s":"m2","x":643.06,"y":177},{"s":"m2","x":641.49,"y":162},{"s":"m2","x":640.87,"y":159},{"s":"m2","x":640.55,"y":177},{"s":"m2","x":640.24,"y":217},{"s":"m2","x":639.93,"y":307},{"s":"m2","x":639.61,"y":437},{"s":"m2","x":639.30,"y":557},{"s":"m2","x":639.07,"y":627},{"s":"m2","x":638.83,"y":657},{"s":"m2","x":638.60,"y":642},{"s":"m2","x":638.36,"y":547},{"s":"m2","x":638.05,"y":377},{"s":"m2","x":637.74,"y":217},{"s":"m2","x":637.42,"y":107},{"s":"m2","x":637.11,"y":57},{"s":"m2","x":636.80,"y":42},{"s":"m2","x":635.50,"y":37},
  {"s":"m3","x":647.0,"y":202},{"s":"m3","x":645.40,"y":207},{"s":"m3","x":643.84,"y":222},{"s":"m3","x":643.06,"y":242},{"s":"m3","x":642.43,"y":287},{"s":"m3","x":641.96,"y":337},{"s":"m3","x":641.57,"y":382},{"s":"m3","x":641.26,"y":407},{"s":"m3","x":641.05,"y":412},{"s":"m3","x":640.79,"y":402},{"s":"m3","x":640.40,"y":357},{"s":"m3","x":639.93,"y":277},{"s":"m3","x":639.46,"y":197},{"s":"m3","x":638.99,"y":137},{"s":"m3","x":638.36,"y":87},{"s":"m3","x":637.58,"y":62},{"s":"m3","x":636.80,"y":49},{"s":"m3","x":635.50,"y":45}]
},
"vconcat": [{
 "title": {"text": "Binding energy / eV", "orient": "bottom", "anchor": "middle", "fontSize": 23, "offset": 0},
 "columns": 4,
 "spacing": 0,
 "bounds": "flush",
 "concat": [
  {"width": 252, "height": 251,
   "encoding": {"x": {"field": "x", "type": "quantitative", "scale": {"domain": [223.0, 239.2], "reverse": true, "nice": false, "zero": false}, "axis": null},
                "y": {"field": "y", "type": "quantitative", "scale": {"domain": [0, 753], "nice": false, "zero": false}, "axis": null}},
   "layer": [
    {"data": {"name": "a0"}, "mark": {"type": "line", "color": "#1a1a1a", "strokeWidth": 1.2, "clip": true}, "encoding": {}},
    {"data": {"values": [{"x": 238.49, "y": 691, "t": "Mo 3d 0s"}]}, "mark": {"type": "text", "align": "left", "baseline": "middle", "fontSize": 19, "font": "Liberation Sans", "color": "#111"}, "encoding": {"text": {"field": "t", "type": "nominal"}}},
    {"data": {"values": [{"x": 223.38, "y": 686, "t": "(a)"}]}, "mark": {"type": "text", "align": "right", "baseline": "middle", "fontSize": 27, "font": "Liberation Serif", "color": "#111"}, "encoding": {"text": {"field": "t", "type": "nominal"}}}
   ]},
  {"width": 252, "height": 251,
   "encoding": {"x": {"field": "x", "type": "quantitative", "scale": {"domain": [223.0, 239.2], "reverse": true, "nice": false, "zero": false}, "axis": null},
                "y": {"field": "y", "type": "quantitative", "scale": {"domain": [0, 753], "nice": false, "zero": false}, "axis": null}},
   "layer": [
    {"data": {"name": "b0"}, "mark": {"type": "line", "color": "#1a1a1a", "strokeWidth": 1.2, "clip": true}, "encoding": {}},
    {"data": {"values": [{"x": 223.44, "y": 686, "t": "(b)"}]}, "mark": {"type": "text", "align": "right", "baseline": "middle", "fontSize": 27, "font": "Liberation Serif", "color": "#111"}, "encoding": {"text": {"field": "t", "type": "nominal"}}}
   ]},
  {"width": 251, "height": 251,
   "encoding": {"x": {"field": "x", "type": "quantitative", "scale": {"domain": [635.2, 647.0], "reverse": true, "nice": false, "zero": false}, "axis": null},
                "y": {"field": "y", "type": "quantitative", "scale": {"domain": [0, 753], "nice": false, "zero": false}, "axis": null}},
   "layer": [
    {"data": {"name": "c0"}, "mark": {"type": "line", "color": "#1a1a1a", "strokeWidth": 1.2, "clip": true}, "encoding": {}},
    {"data": {"values": [{"x": 646.58, "y": 691, "t": "Mn 2p"}, {"x": 643.08, "y": 691, "t": "0s"}]}, "mark": {"type": "text", "align": "left", "baseline": "middle", "fontSize": 19, "font": "Liberation Sans", "color": "#111"}, "encoding": {"text": {"field": "t", "type": "nominal"}}},
    {"data": {"values": [{"x": 644.07, "y": 675, "t": "3/2"}]}, "mark": {"type": "text", "align": "left", "baseline": "middle", "fontSize": 12, "font": "Liberation Sans", "color": "#111"}, "encoding": {"text": {"field": "t", "type": "nominal"}}},
    {"data": {"values": [{"x": 635.42, "y": 686, "t": "(c)"}]}, "mark": {"type": "text", "align": "right", "baseline": "middle", "fontSize": 27, "font": "Liberation Serif", "color": "#111"}, "encoding": {"text": {"field": "t", "type": "nominal"}}}
   ]},
  {"width": 245, "height": 251,
   "encoding": {"x": {"field": "x", "type": "quantitative", "scale": {"domain": [635.5, 647.0], "reverse": true, "nice": false, "zero": false}, "axis": null},
                "y": {"field": "y", "type": "quantitative", "scale": {"domain": [0, 753], "nice": false, "zero": false}, "axis": null}},
   "layer": [
    {"data": {"name": "d0"}, "mark": {"type": "line", "color": "#1a1a1a", "strokeWidth": 1.2, "clip": true}, "encoding": {}},
    {"data": {"values": [{"x": 635.56, "y": 686, "t": "(d)"}]}, "mark": {"type": "text", "align": "right", "baseline": "middle", "fontSize": 27, "font": "Liberation Serif", "color": "#111"}, "encoding": {"text": {"field": "t", "type": "nominal"}}}
   ]},
  {"width": 252, "height": 252,
   "encoding": {"x": {"field": "x", "type": "quantitative", "scale": {"domain": [223.0, 239.2], "reverse": true, "nice": false, "zero": false}, "axis": null},
                "y": {"field": "y", "type": "quantitative", "scale": {"domain": [0, 756], "nice": false, "zero": false}, "axis": null}},
   "layer": [
    {"data": {"name": "a1"}, "mark": {"type": "line", "color": "#1a1a1a", "strokeWidth": 1.2, "clip": true},
     "encoding": {"x": {"field": "x", "type": "quantitative", "scale": {"domain": [223.0, 239.2], "reverse": true, "nice": false, "zero": false}, "axis": {"orient": "bottom", "values": [236, 232, 228, 224], "tickSize": -6, "labelPadding": 10, "title": null}}}},
    {"data": {"name": "a1c"}, "mark": {"type": "line", "interpolate": "monotone", "strokeWidth": 1.2, "clip": true},
     "encoding": {"x": {"field": "x", "type": "quantitative", "scale": {"domain": [223.0, 239.2], "reverse": true, "nice": false, "zero": false}, "axis": {"orient": "bottom", "values": [239, 238, 237, 235, 234, 233, 231, 230, 229, 227, 226, 225, 223], "tickSize": -3, "labels": false, "title": null}},
                  "color": {"field": "s", "type": "nominal", "scale": {"domain": ["bg", "m1", "m2", "m3", "m4", "m5", "m6", "red"], "range": ["#2b2bd6", "#e030e0", "#202088", "#1f8a1f", "#8a3cf0", "#7a2f7a", "#8b1f1f", "#e8161e"]}, "legend": null}}},
    {"data": {"values": [{"g":"met","o":1,"x":230.80,"y":527},{"g":"met","o":2,"x":230.80,"y":662},{"g":"met","o":3,"x":227.69,"y":662},{"g":"met","o":4,"x":227.69,"y":602},{"g":"m6","o":1,"x":235.83,"y":382},{"g":"m6","o":2,"x":235.83,"y":587},{"g":"m6","o":3,"x":232.73,"y":587},{"g":"m6","o":4,"x":232.73,"y":462},{"g":"m4","o":1,"x":232.83,"y":180},{"g":"m4","o":2,"x":232.83,"y":82},{"g":"m4","o":3,"x":229.58,"y":82},{"g":"m4","o":4,"x":229.58,"y":180}]},
     "mark": {"type": "line", "color": "#1a1a1a", "strokeWidth": 1},
     "encoding": {"detail": {"field": "g", "type": "nominal"}, "order": {"field": "o", "type": "quantitative"}}},
    {"data": {"values": [{"d":"down","x":230.80,"y":512},{"d":"down","x":227.69,"y":587},{"d":"down","x":235.83,"y":367},{"d":"down","x":232.73,"y":444},{"d":"up","x":232.83,"y":200},{"d":"up","x":229.58,"y":200}]},
     "mark": {"type": "point", "filled": true, "color": "#111", "opacity": 1, "size": 169},
     "encoding": {"shape": {"field": "d", "type": "nominal", "scale": {"domain": ["down", "up"], "range": ["M-0.75,-1L0.75,-1L0,1Z", "M-0.75,1L0.75,1L0,-1Z"]}, "legend": null}}},
    {"data": {"values": [{"x": 238.51, "y": 692, "t": "Mo 3d 60s"}]}, "mark": {"type": "text", "align": "left", "baseline": "middle", "fontSize": 19, "font": "Liberation Sans", "color": "#111"}, "encoding": {"text": {"field": "t", "type": "nominal"}}},
    {"data": {"values": [{"x": 230.69, "y": 692, "t": "Mo-met"}, {"x": 235.08, "y": 622, "t": "Mo"}, {"x": 232.19, "y": 42, "t": "Mo"}]}, "mark": {"type": "text", "align": "left", "baseline": "middle", "fontSize": 18, "font": "Liberation Sans", "color": "#111"}, "encoding": {"text": {"field": "t", "type": "nominal"}}},
    {"data": {"values": [{"x": 233.41, "y": 645, "t": "6+"}, {"x": 230.65, "y": 64, "t": "4+"}]}, "mark": {"type": "text", "align": "left", "baseline": "middle", "fontSize": 12, "font": "Liberation Sans", "color": "#111"}, "encoding": {"text": {"field": "t", "type": "nominal"}}}
   ],
   "resolve": {"axis": {"x": "independent"}}},
  {"width": 252, "height": 252,
   "encoding": {"x": {"field": "x", "type": "quantitative", "scale": {"domain": [223.0, 239.2], "reverse": true, "nice": false, "zero": false}, "axis": null},
                "y": {"field": "y", "type": "quantitative", "scale": {"domain": [0, 756], "nice": false, "zero": false}, "axis": null}},
   "layer": [
    {"data": {"name": "b1"}, "mark": {"type": "line", "color": "#1a1a1a", "strokeWidth": 1.2, "clip": true},
     "encoding": {"x": {"field": "x", "type": "quantitative", "scale": {"domain": [223.0, 239.2], "reverse": true, "nice": false, "zero": false}, "axis": {"orient": "bottom", "values": [236, 232, 228, 224], "tickSize": -6, "labelPadding": 10, "title": null}}}},
    {"data": {"name": "b1c"}, "mark": {"type": "line", "interpolate": "monotone", "strokeWidth": 1.2, "clip": true},
     "encoding": {"x": {"field": "x", "type": "quantitative", "scale": {"domain": [223.0, 239.2], "reverse": true, "nice": false, "zero": false}, "axis": {"orient": "bottom", "values": [239, 238, 237, 235, 234, 233, 231, 230, 229, 227, 226, 225, 223], "tickSize": -3, "labels": false, "title": null}},
                  "color": {"field": "s", "type": "nominal", "scale": {"domain": ["bg", "m1", "m2", "m3", "m4", "m5", "m6", "red"], "range": ["#2b2bd6", "#e030e0", "#202088", "#1f8a1f", "#8a3cf0", "#7a2f7a", "#8b1f1f", "#e8161e"]}, "legend": null}}}
   ],
   "resolve": {"axis": {"x": "independent"}}},
  {"width": 251, "height": 252,
   "encoding": {"x": {"field": "x", "type": "quantitative", "scale": {"domain": [635.2, 647.0], "reverse": true, "nice": false, "zero": false}, "axis": null},
                "y": {"field": "y", "type": "quantitative", "scale": {"domain": [0, 756], "nice": false, "zero": false}, "axis": null}},
   "layer": [
    {"data": {"name": "c1"}, "mark": {"type": "line", "color": "#1a1a1a", "strokeWidth": 1.2, "clip": true},
     "encoding": {"x": {"field": "x", "type": "quantitative", "scale": {"domain": [635.2, 647.0], "reverse": true, "nice": false, "zero": false}, "axis": {"orient": "bottom", "values": [646, 644, 642, 640, 638, 636], "tickSize": -6, "labelPadding": 10, "title": null}}}},
    {"data": {"name": "c1c"}, "mark": {"type": "line", "interpolate": "monotone", "strokeWidth": 1.2, "clip": true},
     "encoding": {"x": {"field": "x", "type": "quantitative", "scale": {"domain": [635.2, 647.0], "reverse": true, "nice": false, "zero": false}, "axis": {"orient": "bottom", "values": [646.5, 645.5, 645, 644.5, 643.5, 643, 642.5, 641.5, 641, 640.5, 639.5, 639, 638.5, 637.5, 637, 636.5, 635.5], "tickSize": -3, "labels": false, "title": null}},
                  "color": {"field": "s", "type": "nominal", "scale": {"domain": ["bg", "m1", "m2", "m3", "m4", "m5", "m6", "red"], "range": ["#2b2bd6", "#e030e0", "#202088", "#1f8a1f", "#8a3cf0", "#7a2f7a", "#8b1f1f", "#e8161e"]}, "legend": null}}},
    {"data": {"values": [{"g":"mno","o":1,"x":643.51,"y":570},{"g":"mno","o":2,"x":641.13,"y":570},{"g":"mno","o":3,"x":641.13,"y":532},{"g":"mno2","o":1,"x":644.92,"y":454},{"g":"mno2","o":2,"x":642.54,"y":454},{"g":"mno2","o":3,"x":642.54,"y":337},{"g":"met","o":1,"x":635.23,"y":432},{"g":"met","o":2,"x":638.81,"y":432},{"g":"met","o":3,"x":638.81,"y":505}]},
     "mark": {"type": "line", "color": "#1a1a1a", "strokeWidth": 1},
     "encoding": {"detail": {"field": "g", "type": "nominal"}, "order": {"field": "o", "type": "quantitative"}}},
    {"data": {"values": [{"d":"down","x":641.13,"y":517},{"d":"down","x":642.54,"y":320},{"d":"up","x":638.81,"y":522}]},
     "mark": {"type": "point", "filled": true, "color": "#111", "opacity": 1, "size": 169},
     "encoding": {"shape": {"field": "d", "type": "nominal", "scale": {"domain": ["down", "up"], "range": ["M-0.75,-1L0.75,-1L0,1Z", "M-0.75,1L0.75,1L0,-1Z"]}, "legend": null}}},
    {"data": {"values": [{"x": 646.58, "y": 692, "t": "Mn 2p"}, {"x": 643.06, "y": 692, "t": "60s"}]}, "mark": {"type": "text", "align": "left", "baseline": "middle", "fontSize": 19, "font": "Liberation Sans", "color": "#111"}, "encoding": {"text": {"field": "t", "type": "nominal"}}},
    {"data": {"values": [{"x": 643.01, "y": 602, "t": "MnO"}, {"x": 644.81, "y": 497, "t": "MnO"}, {"x": 638.13, "y": 465, "t": "Mo-met"}]}, "mark": {"type": "text", "align": "left", "baseline": "middle", "fontSize": 18, "font": "Liberation Sans", "color": "#111"}, "encoding": {"text": {"field": "t", "type": "nominal"}}},
    {"data": {"values": [{"x": 644.07, "y": 676, "t": "3/2"}, {"x": 642.96, "y": 481, "t": "2"}]}, "mark": {"type": "text", "align": "left", "baseline": "middle", "fontSize": 12, "font": "Liberation Sans", "color": "#111"}, "encoding": {"text": {"field": "t", "type": "nominal"}}}
   ],
   "resolve": {"axis": {"x": "independent"}}},
  {"width": 245, "height": 252,
   "encoding": {"x": {"field": "x", "type": "quantitative", "scale": {"domain": [635.5, 647.0], "reverse": true, "nice": false, "zero": false}, "axis": null},
                "y": {"field": "y", "type": "quantitative", "scale": {"domain": [0, 756], "nice": false, "zero": false}, "axis": null}},
   "layer": [
    {"data": {"name": "d1"}, "mark": {"type": "line", "color": "#1a1a1a", "strokeWidth": 1.2, "clip": true},
     "encoding": {"x": {"field": "x", "type": "quantitative", "scale": {"domain": [635.5, 647.0], "reverse": true, "nice": false, "zero": false}, "axis": {"orient": "bottom", "values": [646, 644, 642, 640, 638, 636], "tickSize": -6, "labelPadding": 10, "title": null}}}},
    {"data": {"name": "d1c"}, "mark": {"type": "line", "interpolate": "monotone", "strokeWidth": 1.2, "clip": true},
     "encoding": {"x": {"field": "x", "type": "quantitative", "scale": {"domain": [635.5, 647.0], "reverse": true, "nice": false, "zero": false}, "axis": {"orient": "bottom", "values": [646.5, 645.5, 645, 644.5, 643.5, 643, 642.5, 641.5, 641, 640.5, 639.5, 639, 638.5, 637.5, 637, 636.5, 635.5], "tickSize": -3, "labels": false, "title": null}},
                  "color": {"field": "s", "type": "nominal", "scale": {"domain": ["bg", "m1", "m2", "m3", "m4", "m5", "m6", "red"], "range": ["#2b2bd6", "#e030e0", "#202088", "#1f8a1f", "#8a3cf0", "#7a2f7a", "#8b1f1f", "#e8161e"]}, "legend": null}}}
   ],
   "resolve": {"axis": {"x": "independent"}}}
 ]
}]
}
